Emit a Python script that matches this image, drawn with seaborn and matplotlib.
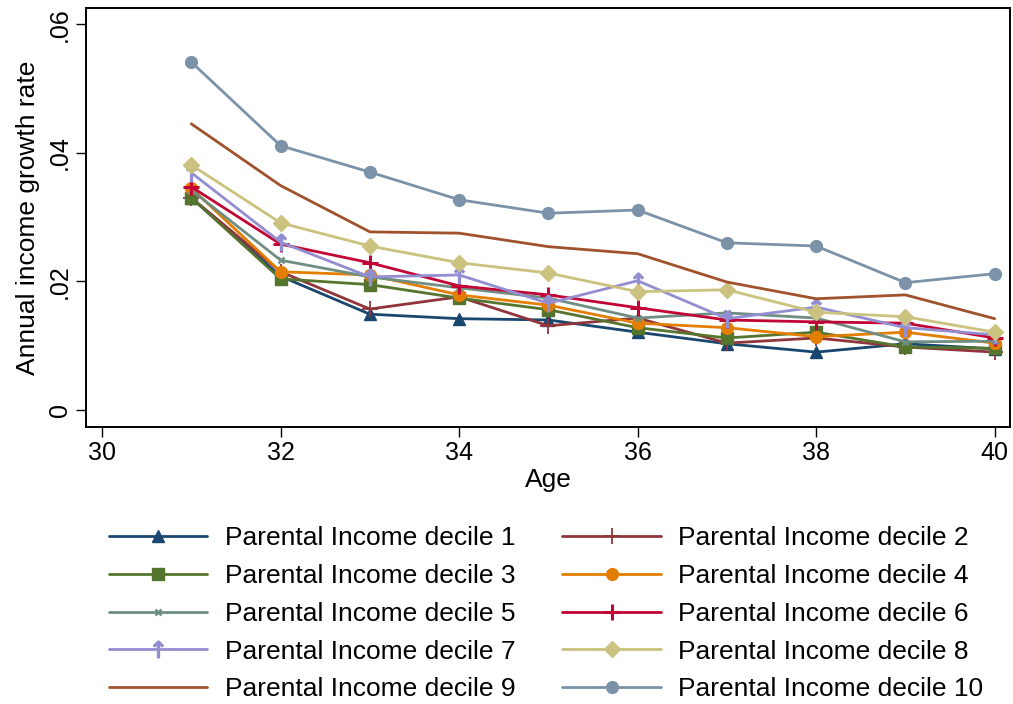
import matplotlib
matplotlib.use("Agg")
import matplotlib.pyplot as plt
import seaborn as sns
import pandas as pd

ages = [31, 32, 33, 34, 35, 36, 37, 38, 39, 40]
d1 = [0.0330, 0.0208, 0.0149, 0.0142, 0.0140, 0.0121, 0.0103, 0.0090, 0.0103, 0.0095]
d2 = [0.0330, 0.0215, 0.0157, 0.0176, 0.0131, 0.0143, 0.0104, 0.0112, 0.0098, 0.0090]
d3 = [0.0330, 0.0204, 0.0195, 0.0174, 0.0156, 0.0128, 0.0112, 0.0121, 0.0098, 0.0096]
d4 = [0.0345, 0.0215, 0.0210, 0.0179, 0.0163, 0.0135, 0.0128, 0.0114, 0.0121, 0.0104]
d5 = [0.0342, 0.0233, 0.0207, 0.0190, 0.0174, 0.0143, 0.0151, 0.0143, 0.0106, 0.0107]
d6 = [0.0347, 0.0258, 0.0229, 0.0193, 0.0179, 0.0159, 0.0140, 0.0137, 0.0135, 0.0112]
d7 = [0.0369, 0.0261, 0.0207, 0.0210, 0.0166, 0.0201, 0.0142, 0.0160, 0.0128, 0.0117]
d8 = [0.0381, 0.0291, 0.0255, 0.0229, 0.0213, 0.0184, 0.0187, 0.0152, 0.0145, 0.0121]
d9 = [0.0445, 0.0349, 0.0277, 0.0275, 0.0254, 0.0243, 0.0199, 0.0173, 0.0179, 0.0142]
d10 = [0.0541, 0.0411, 0.0370, 0.0327, 0.0306, 0.0311, 0.0260, 0.0255, 0.0198, 0.0212]

series = [d1, d2, d3, d4, d5, d6, d7, d8, d9, d10]
labels = [f"Parental Income decile {i}" for i in range(1, 11)]
colors = ["#1a476f", "#90353b", "#55752f", "#e37e00", "#6e8e84",
          "#c10534", "#938dd2", "#cac27e", "#a0522d", "#7b92a8"]
markers = ["^", "+", "s", "o", "x", "+", r"$\uparrow$", "D", None, "o"]
msizes = [9, 12, 8.5, 8.5, 4.5, 12, 12, 8, 0, 8.5]
mews = [1, 1.3, 1, 1, 1.8, 2.2, 1, 1, 1, 1]

ytick_vals = [0, 0.02, 0.04, 0.06]
ytick_labels = ["0", ".02", ".04", ".06"]
xtick_vals = [30, 32, 34, 36, 38, 40]

sns.set_theme(style="white")
plt.rcParams['font.family'] = ['Liberation Sans', 'DejaVu Sans']
plt.rcParams['text.color'] = 'black'
plt.rcParams['axes.labelcolor'] = 'black'
plt.rcParams['xtick.color'] = 'black'
plt.rcParams['ytick.color'] = 'black'

fig = plt.figure(figsize=(10.13, 7.04), dpi=100)
ax = fig.add_axes([0.0849, 0.3935, 0.912, 0.595])

for vals, lab, col, mk, ms, mw in zip(series, labels, colors, markers, msizes, mews):
    df = pd.DataFrame({"Age": ages, "rate": vals})
    kw = dict(marker=mk, markersize=ms, markeredgewidth=mw, markeredgecolor=col,
              markerfacecolor=col) if mk else dict(marker=None)
    sns.lineplot(data=df, x="Age", y="rate", ax=ax, color=col, linewidth=2.0,
                 label=lab, legend=False, **kw)

ax.set_xlim(29.82, 40.17)
ax.set_ylim(-0.00264, 0.0625)
ax.set_xticks(xtick_vals)
ax.set_xticklabels([str(v) for v in xtick_vals])
ax.set_yticks(ytick_vals)
ax.set_yticklabels(ytick_labels, rotation=90, va="center")
ax.tick_params(axis="both", direction="out", length=7, width=1, colors="black",
               labelsize=18, bottom=True, left=True, pad=3)
for s in ax.spines.values():
    s.set_color("black")
    s.set_linewidth(1.4)
ax.set_xlabel("Age", fontsize=19, labelpad=2, color="black")
ax.set_ylabel("Annual income growth rate", fontsize=19, labelpad=6, color="black")
ax.grid(False)

handles, labs = ax.get_legend_handles_labels()
order = [0, 2, 4, 6, 8, 1, 3, 5, 7, 9]
leg = fig.legend([handles[i] for i in order], [labs[i] for i in order],
                 loc="center", bbox_to_anchor=(0.539, 0.128), ncol=2, frameon=False,
                 fontsize=19, handlelength=3.75, handletextpad=0.65,
                 columnspacing=1.78, labelspacing=0.52)
for t in leg.get_texts():
    t.set_color("black")

fig.savefig("out.png", dpi=100)
